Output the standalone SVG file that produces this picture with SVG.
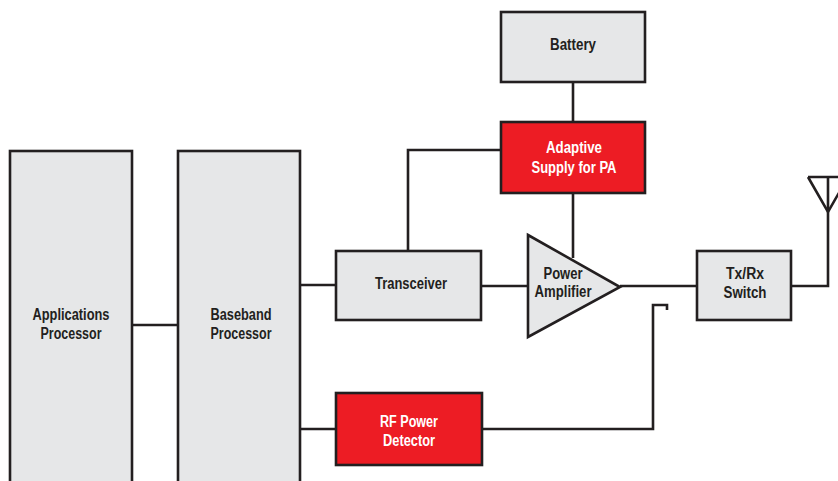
<svg xmlns="http://www.w3.org/2000/svg" width="838" height="481" viewBox="0 0 838 481">
<style>
.box{fill:#e6e7e8;stroke:#231f20;stroke-width:2.6}
.red{fill:#ed1c24;stroke:#231f20;stroke-width:2.6}
.ln{fill:none;stroke:#231f20;stroke-width:2.6}
text{font-family:"Liberation Sans",Arial,sans-serif;font-weight:bold;font-size:16px;text-anchor:middle;fill:#231f20}
.w{fill:#ffffff}
</style>
<rect width="838" height="481" fill="#ffffff"/>
<g id="connectors">
<path class="ln" d="M132,325 H178"/>
<path class="ln" d="M300,285 H336"/>
<path class="ln" d="M300,429 H336"/>
<path class="ln" d="M573,82 V122"/>
<path class="ln" d="M501,150 H408 V250"/>
<path class="ln" d="M573,193 V258"/>
<path class="ln" d="M481,286 H528"/>
<path class="ln" d="M620,286 H697"/>
<path class="ln" d="M482,429 H653 V305 H667 V310"/>
<path class="ln" d="M791,286 H828 V177"/>
<path class="ln" d="M808,177 H848 M808,177 L828,212 L848,177"/>
</g>
<g id="applications-processor">
<rect class="box" x="10" y="151" width="122" height="340"/>
<text x="71" y="320" textLength="77" lengthAdjust="spacingAndGlyphs">Applications</text>
<text x="71" y="339" textLength="61" lengthAdjust="spacingAndGlyphs">Processor</text>
</g>
<g id="baseband-processor">
<rect class="box" x="178" y="151" width="122" height="340"/>
<text x="241" y="320" textLength="61" lengthAdjust="spacingAndGlyphs">Baseband</text>
<text x="241" y="339" textLength="61" lengthAdjust="spacingAndGlyphs">Processor</text>
</g>
<g id="battery">
<rect class="box" x="501" y="12" width="144" height="70"/>
<text x="573" y="50" textLength="46" lengthAdjust="spacingAndGlyphs">Battery</text>
</g>
<g id="adaptive-supply">
<rect class="red" x="501" y="122" width="144" height="71"/>
<text class="w" x="574" y="153" textLength="56" lengthAdjust="spacingAndGlyphs">Adaptive</text>
<text class="w" x="574" y="173" textLength="85" lengthAdjust="spacingAndGlyphs">Supply for PA</text>
</g>
<g id="transceiver">
<rect class="box" x="336" y="251" width="145" height="69"/>
<text x="411" y="289" textLength="72" lengthAdjust="spacingAndGlyphs">Transceiver</text>
</g>
<g id="power-amplifier">
<path class="box" d="M528,235 L620,287 L528,337 Z"/>
<text x="563" y="279" textLength="39" lengthAdjust="spacingAndGlyphs">Power</text>
<text x="563" y="297" textLength="57" lengthAdjust="spacingAndGlyphs">Amplifier</text>
</g>
<g id="txrx-switch">
<rect class="box" x="697" y="251" width="94" height="69"/>
<text x="745" y="279" textLength="38" lengthAdjust="spacingAndGlyphs">Tx/Rx</text>
<text x="745" y="298" textLength="43" lengthAdjust="spacingAndGlyphs">Switch</text>
</g>
<g id="rf-power-detector">
<rect class="red" x="336" y="393" width="146" height="72"/>
<text class="w" x="409" y="427" textLength="58" lengthAdjust="spacingAndGlyphs">RF Power</text>
<text class="w" x="409" y="446" textLength="52" lengthAdjust="spacingAndGlyphs">Detector</text>
</g>
</svg>
